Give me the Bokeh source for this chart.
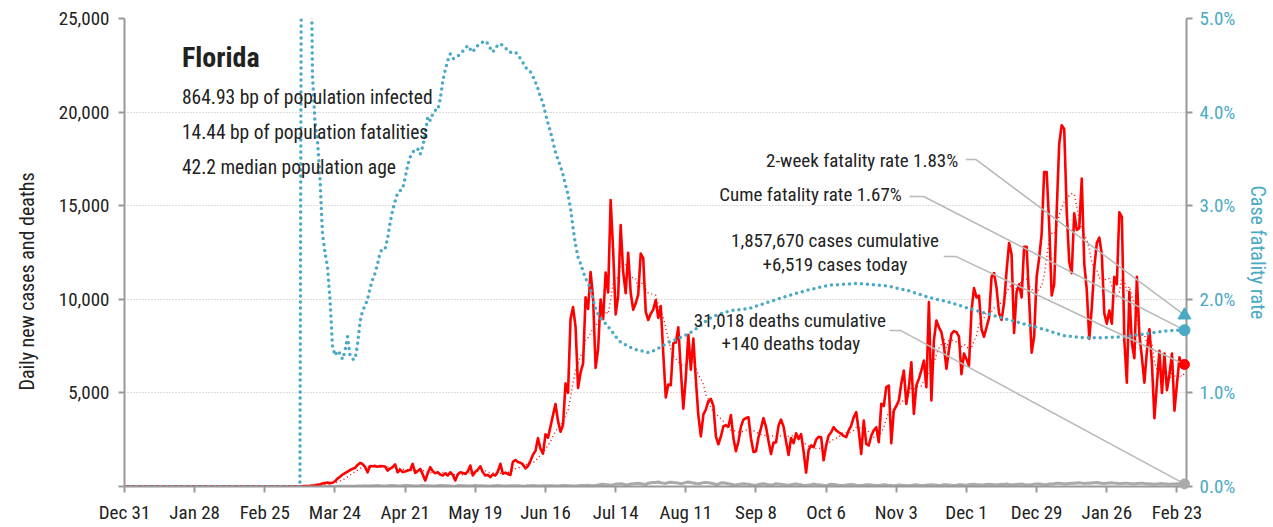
import pandas as pd
from bokeh.plotting import figure
from bokeh.models import Range1d, LinearAxis, FixedTicker, Label, NumeralTickFormatter, Title
from bokeh.embed import file_html
from bokeh.resources import INLINE

FONT = "Roboto Condensed, DejaVu Sans Condensed, Liberation Sans Narrow, Liberation Sans, sans-serif"
RED = "#ff0000"
TEAL = "#4aa9c5"
GRAY = "#aaaaaa"
LEADER = "#b8b8b8"
INK = "#222222"

origin = "2019-12-31"

# ---- daily new cases (Florida), starting 2020-03-01 ----
cases_start = "2020-03-01"
cases_mar = [2, 3, 4, 4, 6, 5, 8, 10, 13, 15, 18, 25, 30, 40, 55, 70, 95, 120, 160, 190,
             210, 180, 200, 280, 420, 520, 640, 720, 800, 880, 940]
cases_apr = [1000, 1150, 1260, 1200, 1050, 760, 1090, 1080, 1100, 1060, 1090, 1080, 1070, 850, 960,
             1030, 1180, 760, 900, 770, 800, 850, 880, 1210, 730, 820, 940, 650, 320, 700]
cases_may = [1030, 820, 710, 760, 640, 590, 700, 590, 760, 620, 320, 650, 760, 720, 680, 800,
             1120, 590, 780, 900, 1080, 760, 590, 620, 500, 650, 590, 800, 1210, 680, 740]
cases_jun = [667, 617, 1317, 1419, 1305, 1270, 1180, 966, 1096, 1371, 1698, 1902, 2581, 2016, 1758,
             2783, 2610, 3207, 3822, 4400, 3494, 2926, 3286, 5508, 5004, 8942, 9585, 8530, 5266, 6093]
cases_jul = [6563, 10109, 9488, 11458, 10059, 6336, 7347, 9989, 8935, 11433, 10360, 15300, 12624,
             9194, 10181, 13965, 11466, 10328, 12478, 10347, 9440, 9785, 10249, 12444, 12199, 9344,
             8892, 9230, 9446, 9956, 9007]
cases_aug = [9642, 7104, 4752, 5446, 5409, 7650, 7686, 8502, 6229, 4155, 5831, 8109, 6236, 7900,
             5700, 3800, 2678, 3838, 4115, 4555, 4684, 4311, 2674, 2258, 2673, 3220, 3269, 3197,
             3815, 2583, 1885]
cases_sep = [2402, 3198, 3571, 3656, 3700, 2564, 1838, 1885, 2630, 3116, 3650, 3190, 2423, 1736,
             2343, 2355, 3255, 3573, 3197, 2411, 1685, 2590, 2312, 2847, 2541, 2795, 1882, 738,
             1948, 2200]
cases_oct = [2100, 2500, 2650, 2634, 1400, 2200, 2723, 2900, 3168, 3000, 2900, 2812, 2700, 2634,
             3000, 3257, 3700, 3969, 2990, 1743, 3524, 2278, 2189, 2700, 3000, 3168, 2367, 4415,
             4300, 5305, 5394]
cases_nov = [2313, 4058, 4300, 4593, 5500, 6196, 4415, 5300, 6641, 3880, 5394, 5750, 6200, 6730,
             5305, 9847, 4593, 7799, 8867, 8500, 8244, 7500, 6285, 7300, 8155, 8300, 8244, 8000,
             6000, 7100]
cases_dec = [6800, 6450, 9400, 10600, 10100, 10200, 8400, 8000, 8500, 9000, 11200, 11400, 10600,
             9250, 8900, 9800, 11500, 13000, 12400, 8200, 10400, 10800, 10100, 12800, 12800, 10000,
             7150, 8000, 11200, 12200, 13500]
cases_jan = [16800, 16800, 14000, 10200, 10800, 14700, 18300, 19300, 19100, 14700, 12000, 11400,
             14600, 13700, 13800, 16450, 11900, 10500, 7900, 9550, 11700, 13000, 13300, 12400,
             9250, 8700, 9400, 8700, 11200, 10800, 14650]
cases_feb = [14400, 7800, 5550, 10400, 7650, 6850, 11200, 8100, 6900, 5550, 7250, 8400, 6550, 3650,
             5500, 7250, 5000, 7100, 5150, 6000, 7100, 4050, 5500, 6900, 6350, 6519]

# ---- daily deaths, starting 2020-03-01 ----
deaths_mar = [0, 0, 0, 0, 0, 0, 0, 0, 0, 0, 2, 0, 0, 0, 1, 1, 2, 1, 3, 2, 3, 5, 4, 6, 8, 7, 9, 10,
              12, 14, 18]
deaths_apr = [20, 25, 22, 28, 35, 30, 25, 40, 45, 50, 38, 30, 28, 40, 55, 60, 45, 30, 25, 42, 50, 48,
              45, 35, 25, 30, 45, 50, 40, 45]
deaths_may = [35, 30, 25, 45, 60, 50, 40, 35, 28, 20, 30, 45, 50, 40, 35, 30, 25, 40, 50, 45, 40, 38,
              30, 25, 20, 35, 45, 50, 40, 30, 28]
deaths_jun = [25, 35, 45, 40, 38, 30, 20, 25, 40, 45, 48, 40, 30, 25, 38, 45, 42, 40, 35, 30, 28, 45,
              50, 48, 40, 38, 30, 28, 45, 50]
deaths_jul = [55, 60, 65, 50, 40, 60, 80, 110, 120, 100, 95, 60, 90, 130, 140, 150, 130, 90, 85, 140,
              150, 165, 170, 150, 130, 100, 180, 200, 210, 220, 240]
deaths_aug = [200, 180, 160, 220, 230, 210, 200, 180, 150, 170, 220, 240, 210, 190, 160, 150, 170,
              210, 220, 200, 180, 150, 100, 120, 190, 200, 170, 150, 120, 90, 80]
deaths_sep = [100, 140, 150, 130, 120, 90, 70, 60, 110, 130, 150, 120, 90, 80, 100, 150, 130, 120,
              100, 80, 70, 90, 120, 140, 110, 90, 60, 50, 80, 100]
deaths_oct = [130, 110, 100, 80, 60, 50, 90, 120, 110, 90, 70, 60, 50, 80, 100, 110, 90, 70, 60, 50,
              70, 90, 100, 80, 70, 60, 50, 70, 90, 80, 60]
deaths_nov = [50, 40, 60, 80, 70, 60, 50, 40, 60, 80, 90, 70, 60, 50, 70, 80, 90, 80, 70, 60, 70, 90,
              100, 80, 70, 60, 70, 90, 100, 80]
deaths_dec = [70, 90, 110, 120, 100, 90, 80, 90, 110, 120, 110, 100, 90, 100, 120, 110, 130, 110,
              100, 90, 110, 120, 130, 100, 90, 80, 100, 120, 140, 130, 120]
deaths_jan = [100, 110, 130, 140, 150, 170, 180, 160, 140, 150, 160, 170, 180, 190, 200, 180, 160,
              170, 180, 190, 200, 210, 190, 170, 160, 180, 190, 200, 180, 170, 150]
deaths_feb = [160, 170, 180, 160, 150, 140, 160, 170, 180, 160, 150, 140, 130, 120, 140, 150, 160,
              140, 130, 120, 130, 140, 150, 130, 120, 140]

# ---- cumulative case fatality rate (%) ----
cfr_daily_start = "2020-03-10"
cfr_daily = [0, 10.0, 9.0, 8.0, 7.0, 4.4, 3.9, 3.7, 3.3, 2.7, 2.5, 2.35, 2.0, 1.5, 1.40, 1.45, 1.42,
             1.36, 1.45, 1.60, 1.40, 1.36, 1.36, 1.52, 1.76, 1.88, 1.93, 2.0, 2.12, 2.21, 2.28, 2.38,
             2.5, 2.54, 2.54, 2.65, 2.82, 2.95, 3.05, 3.14, 3.16, 3.18, 3.30, 3.43, 3.52, 3.57, 3.60,
             3.61, 3.55, 3.63, 3.76, 3.95, 3.91, 3.98, 4.02, 4.02, 4.14, 4.33, 4.45, 4.55, 4.62, 4.57,
             4.58, 4.60, 4.62, 4.65, 4.68, 4.71, 4.67, 4.64, 4.69, 4.71, 4.73, 4.75, 4.76, 4.73, 4.68,
             4.64, 4.69, 4.71, 4.73, 4.71, 4.69, 4.65, 4.64, 4.64, 4.64, 4.61, 4.57, 4.53, 4.48, 4.45,
             4.43, 4.38, 4.32, 4.25, 4.16, 4.10, 3.98, 3.88, 3.79, 3.68, 3.57, 3.49, 3.42, 3.33, 3.22,
             3.12, 2.97, 2.76, 2.58, 2.45, 2.38, 2.30, 2.22, 2.18, 2.10, 2.00, 1.90, 1.84, 1.80, 1.77,
             1.74, 1.71, 1.67, 1.64, 1.60, 1.57, 1.54]
cfr_later_dates = ["2020-07-19", "2020-07-21", "2020-07-24", "2020-07-27", "2020-07-30",
                   "2020-08-04", "2020-08-08", "2020-08-12", "2020-08-16", "2020-08-20",
                   "2020-08-24", "2020-08-29", "2020-09-05", "2020-09-13", "2020-09-21",
                   "2020-09-29", "2020-10-07", "2020-10-19", "2020-10-31", "2020-11-08",
                   "2020-11-16", "2020-11-24", "2020-12-01", "2020-12-10", "2020-12-18",
                   "2020-12-25", "2021-01-02", "2021-01-09", "2021-01-17", "2021-01-25",
                   "2021-02-02", "2021-02-10", "2021-02-18", "2021-02-23", "2021-02-26"]
cfr_later = [1.50, 1.47, 1.45, 1.43, 1.46, 1.54, 1.58, 1.63, 1.70, 1.79, 1.84, 1.88, 1.90, 1.97,
             2.04, 2.10, 2.15, 2.17, 2.14, 2.09, 2.02, 1.97, 1.91, 1.84, 1.78, 1.73, 1.67, 1.61,
             1.59, 1.59, 1.60, 1.63, 1.66, 1.67, 1.67]
two_week_cfr = 1.83

# ---- axes ----
tick_dates = ["2019-12-31", "2020-01-28", "2020-02-25", "2020-03-24", "2020-04-21", "2020-05-19",
              "2020-06-16", "2020-07-14", "2020-08-11", "2020-09-08", "2020-10-06", "2020-11-03",
              "2020-12-01", "2020-12-29", "2021-01-26", "2021-02-23"]
tick_labels = ["Dec 31", "Jan 28", "Feb 25", "Mar 24", "Apr 21", "May 19", "Jun 16", "Jul 14",
               "Aug 11", "Sep 8", "Oct 6", "Nov 3", "Dec 1", "Dec 29", "Jan 26", "Feb 23"]
left_ticks = [0, 5000, 10000, 15000, 20000, 25000]
right_ticks = [0, 1, 2, 3, 4, 5]
right_labels = ["0.0%", "1.0%", "2.0%", "3.0%", "4.0%", "5.0%"]
left_title = "Daily new cases and deaths"
right_title = "Case fatality rate"

# ---- texts ----
state_name = "Florida"
info_lines = ["864.93 bp of population infected", "14.44 bp of population fatalities",
              "42.2 median population age"]
txt_two_week = "2-week fatality rate 1.83%"
txt_cume = "Cume fatality rate 1.67%"
txt_cases = ["1,857,670 cases cumulative", "+6,519 cases today"]
txt_deaths = ["31,018 deaths cumulative", "+140 deaths today"]

# ================= build =================
o = pd.Timestamp(origin)
def days(idx):
    return list((pd.DatetimeIndex(idx) - o).days)

cases = (cases_mar + cases_apr + cases_may + cases_jun + cases_jul + cases_aug + cases_sep +
         cases_oct + cases_nov + cases_dec + cases_jan + cases_feb)
deaths = (deaths_mar + deaths_apr + deaths_may + deaths_jun + deaths_jul + deaths_aug +
          deaths_sep + deaths_oct + deaths_nov + deaths_dec + deaths_jan + deaths_feb)
cstart = pd.Timestamp(cases_start)
pre = pd.date_range(o, cstart - pd.Timedelta(days=1), freq="D")
x_cases = days(pre) + days(pd.date_range(cstart, periods=len(cases), freq="D"))
y_cases = [0] * len(pre) + cases
x_deaths = days(pre) + days(pd.date_range(cstart, periods=len(deaths), freq="D"))
y_deaths = [0] * len(pre) + deaths
avg_cases = list(pd.Series(y_cases, dtype=float).rolling(7, min_periods=1).mean())
avg_deaths = list(pd.Series(y_deaths, dtype=float).rolling(7, min_periods=1).mean())

x_cfr = [0] + days(pd.date_range(cfr_daily_start, periods=len(cfr_daily), freq="D")) + days(cfr_later_dates)
y_cfr = [0] + cfr_daily + cfr_later

last_x = x_cases[-1]
x_end = last_x + 0.8
LMAX, RMAX = 25000, 5
k = LMAX / RMAX  # left units per percent

p = figure(frame_width=1062, frame_height=468, x_range=Range1d(0, x_end),
           y_range=Range1d(0, LMAX), output_backend="svg", toolbar_location=None,
           min_border_left=124, min_border_right=84, min_border_top=18, min_border_bottom=34)
p.outline_line_color = None
p.background_fill_color = "white"
p.border_fill_color = "white"
p.xgrid.visible = False
p.ygrid.grid_line_color = "#b8b8b8"
p.ygrid.grid_line_dash = "1 2"
p.ygrid.grid_line_width = 1

def style_axis(ax):
    ax.axis_line_color = "#999999"
    ax.axis_line_width = 2
    ax.major_tick_line_color = "#999999"
    ax.major_tick_line_width = 2
    ax.major_tick_out = 6
    ax.major_tick_in = 0
    ax.minor_tick_out = 0
    ax.minor_tick_in = 0
    ax.major_label_text_font = FONT
    ax.major_label_text_font_size = "19px"
    ax.major_label_text_color = INK
    ax.axis_label_text_font = FONT
    ax.axis_label_text_font_size = "20px"
    ax.axis_label_text_font_style = "normal"
    ax.axis_label_text_color = INK

left = p.yaxis[0]
style_axis(left)
left.ticker = FixedTicker(ticks=left_ticks)
left.formatter = NumeralTickFormatter(format="0,0")
left.major_label_overrides = {0: ""}
left.major_label_standoff = 9

# left-side title (acts as the y axis title, placed lower than centre as in the original)
p.add_layout(Title(text=left_title, align="left", offset=96, standoff=29, vertical_align="top",
                   text_font=FONT, text_font_size="20px", text_font_style="normal",
                   text_color=INK), "left")

bottom = p.xaxis[0]
style_axis(bottom)
tick_pos = days(tick_dates)
bottom.ticker = FixedTicker(ticks=tick_pos)
bottom.major_label_overrides = {t: l for t, l in zip(tick_pos, tick_labels)}
bottom.major_label_standoff = 8

p.extra_y_ranges = {"cfr": Range1d(0, RMAX)}
right = LinearAxis(y_range_name="cfr")
style_axis(right)
right.ticker = FixedTicker(ticks=right_ticks)
right.major_label_overrides = {t: l for t, l in zip(right_ticks, right_labels)}
right.major_label_text_color = TEAL
right.axis_label = right_title
right.axis_label_text_color = TEAL
right.major_label_standoff = 7
right.axis_label_standoff = 8
p.add_layout(right, "right")

# series
p.line(x_deaths, avg_deaths, color=GRAY, line_width=1.5, line_dash="1 2")
p.line(x_deaths, y_deaths, color=GRAY, line_width=3)
p.line(x_cases, y_cases, color=RED, line_width=2.6, line_join="round")
p.line(x_cases, avg_cases, color=RED, line_width=1.4, line_dash="1 3")
p.line(x_cfr, y_cfr, color=TEAL, line_width=3.5, line_dash="0 6", line_cap="round",
       y_range_name="cfr")

# leader lines (start points are layout positions, in data units)
def leader(x0, x1, y0, y_end):
    p.line([x0, x1, last_x], [y0, y0, y_end], color=LEADER, line_width=1.5)

leader(335.7, 339.7, 17470, two_week_cfr * k)
leader(313.3, 318.9, 15490, y_cfr[-1] * k)
leader(326.9, 331.7, 12290, y_cases[-1])
leader(305.4, 309.8, 8330, y_deaths[-1])

# end markers (drawn at overlay level so they are not cut by the frame edge)
r1 = p.scatter([last_x], [two_week_cfr], marker="triangle", size=13, color=TEAL, y_range_name="cfr")
r2 = p.scatter([last_x], [y_cfr[-1]], marker="circle", size=11, color=TEAL, y_range_name="cfr")
r3 = p.scatter([last_x], [y_cases[-1]], marker="circle", size=10, color=RED)
r4 = p.scatter([last_x], [y_deaths[-1]], marker="circle", size=10, color=GRAY)
for r in (r1, r2, r3, r4):
    r.level = "overlay"

def label(x, y, text, align="left", size="19px", style="normal"):
    p.add_layout(Label(x=x, y=y, text=text, text_align=align, text_baseline="middle",
                       text_font=FONT, text_font_size=size, text_font_style=style,
                       text_color=INK))

label(22.9, 22920, state_name, size="28px", style="bold")
for yy, t in zip([20780, 18910, 17040], info_lines):
    label(22.9, yy, t, size="19.5px")
label(332.7, 17415, txt_two_week, align="right")
label(310.2, 15600, txt_cume, align="right")
label(283.5, 13140, txt_cases[0], align="center")
label(283.5, 11860, txt_cases[1], align="center")
label(265.5, 8870, txt_deaths[0], align="center")
label(265.9, 7640, txt_deaths[1], align="center")

open("out.html", "w").write(file_html(p, INLINE))
